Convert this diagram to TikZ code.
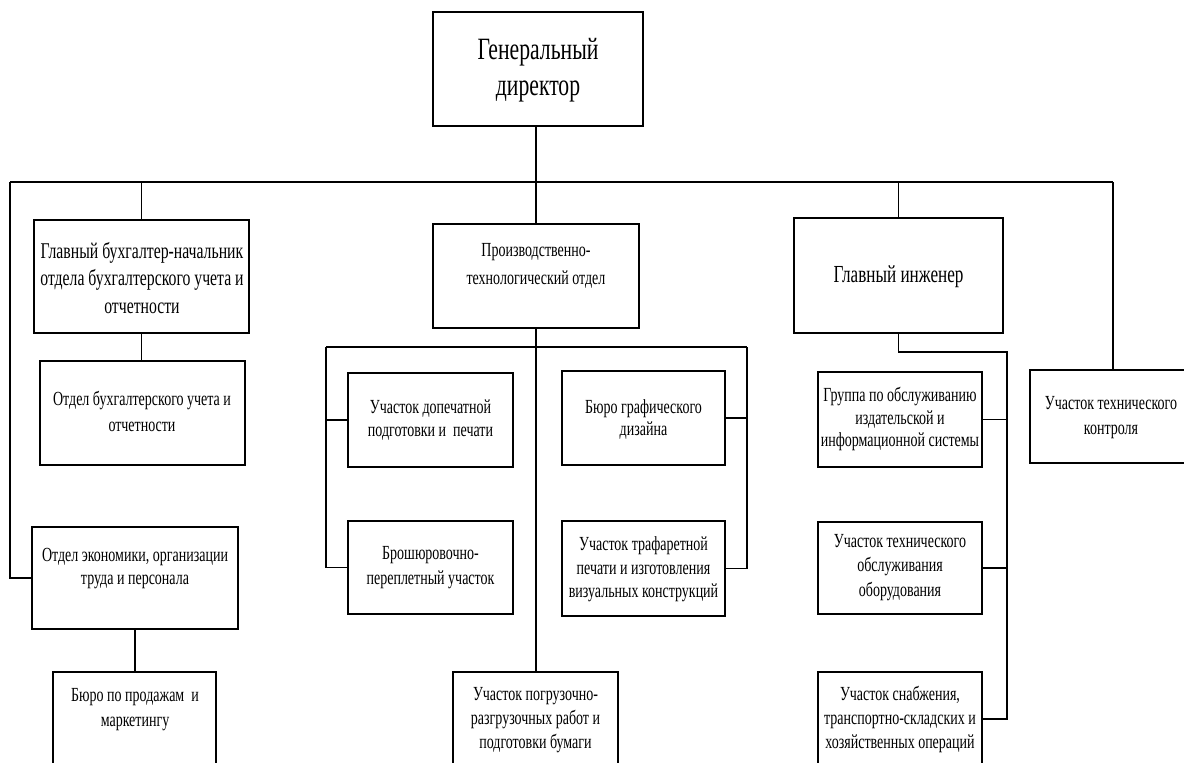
\documentclass[tikz,border=0pt]{standalone}
\usepackage{fontspec}
\setmainfont{Liberation Serif}[FakeStretch=0.7]
\begin{document}
\begin{tikzpicture}[x=1pt,y=-1pt,
  box/.style={draw, line width=1.5pt, inner sep=0pt},
  txt/.style={align=center, inner sep=0pt, font=\fontsize{20}{23.5}\selectfont},
  conn/.style={line width=1.5pt}]
\useasboundingbox (0,0) rectangle (1184,763);
\fill[white] (0,0) rectangle (1184,763);
\clip (0,0) rectangle (1184,763);
% boxes
\node[box, minimum width=210pt, minimum height=114pt] (gd) at (538,69) {};
\node[box, minimum width=215pt, minimum height=113pt] (gb) at (141.5,276.5) {};
\node[box, minimum width=205pt, minimum height=104pt] (obu) at (142.5,413) {};
\node[box, minimum width=206pt, minimum height=102pt] (oe) at (135,578) {};
\node[box, minimum width=163pt, minimum height=94pt] (bp) at (134.5,719) {};
\node[box, minimum width=206pt, minimum height=104pt] (pto) at (536,276) {};
\node[box, minimum width=165pt, minimum height=94pt] (ud) at (430.5,420) {};
\node[box, minimum width=165pt, minimum height=93pt] (br) at (430.5,567.5) {};
\node[box, minimum width=163pt, minimum height=94pt] (bg) at (643.5,418) {};
\node[box, minimum width=163pt, minimum height=95pt] (tr) at (643.5,568.5) {};
\node[box, minimum width=165pt, minimum height=94pt] (pg) at (535.5,719) {};
\node[box, minimum width=209pt, minimum height=115pt] (gi) at (898.5,275.5) {};
\node[box, minimum width=164pt, minimum height=95pt] (gr) at (900,419.5) {};
\node[box, minimum width=164pt, minimum height=92pt] (uto) at (900,568) {};
\node[box, minimum width=164pt, minimum height=94pt] (us) at (900,719) {};
\node[box, minimum width=162pt, minimum height=93pt] (utk) at (1111,416.5) {};
% texts
\node[txt, font=\fontsize{31}{36}\selectfont] (gd-t) at (538,70) {Генеральный\\директор};
\node[txt, font=\fontsize{22.5}{27.5}\selectfont] (gb-t) at (142,278) {Главный бухгалтер-начальник\\отдела бухгалтерского учета и\\отчетности};
\node[txt, font=\fontsize{20}{26}\selectfont] (obu-t) at (142,411) {Отдел бухгалтерского учета и\\отчетности};
\node[txt, font=\fontsize{20}{23}\selectfont] (oe-t) at (135,568.5) {Отдел экономики, организации\\труда и персонала};
\node[txt, font=\fontsize{20}{25}\selectfont] (bp-t) at (135,709.5) {Бюро по продажам\ \ и\\маркетингу};
\node[txt, font=\fontsize{20}{28}\selectfont] (pto-t) at (536,266) {Производственно-\\технологический отдел};
\node[txt, font=\fontsize{20}{23}\selectfont] (ud-t) at (430.5,420.5) {Участок допечатной\\подготовки и\ \ печати};
\node[txt, font=\fontsize{20}{25}\selectfont] (br-t) at (430.5,567.5) {Брошюровочно-\\переплетный участок};
\node[txt, font=\fontsize{20}{22}\selectfont] (bg-t) at (643.5,419) {Бюро графического\\дизайна};
\node[txt, font=\fontsize{20}{23.5}\selectfont] (tr-t) at (643.5,569.5) {Участок трафаретной\\печати и изготовления\\визуальных конструкций};
\node[txt, font=\fontsize{20}{24}\selectfont] (pg-t) at (535.5,720) {Участок погрузочно-\\разгрузочных работ и\\подготовки бумаги};
\node[txt, font=\fontsize{24.5}{29}\selectfont] (gi-t) at (898.5,277) {Главный инженер};
\node[txt, font=\fontsize{20}{22.5}\selectfont] (gr-t) at (900,419) {Группа по обслуживанию\\издательской и\\информационной системы};
\node[txt, font=\fontsize{20}{24.5}\selectfont] (uto-t) at (900,567.5) {Участок технического\\обслуживания\\оборудования};
\node[txt, font=\fontsize{20}{24}\selectfont] (us-t) at (900,719) {Участок снабжения,\\транспортно-складских и\\хозяйственных операций};
\node[txt, font=\fontsize{20}{25}\selectfont] (utk-t) at (1111,417.5) {Участок технического\\контроля};
% connectors
\coordinate (busL) at (10,182);
\coordinate (busR) at (1113,182);
\coordinate (b2L) at (326,347);
\coordinate (b2R) at (747,347);
\coordinate (giJ) at (1007,352);
\draw[conn] (pto.north |- gd.south) -- (pto.north);
\draw[conn] (busL) -- (busR);
\draw[conn] (busL) |- (oe.west);
\draw[conn] (busR) -- (busR |- utk.north);
\draw[conn] (gb.north |- busL) -- (gb.north);
\draw[conn] (gb.south) -- (gb.south |- obu.north);
\draw[conn] (oe.south) -- (oe.south |- bp.north);
\draw[conn] (gi.north |- busL) -- (gi.north);
\draw[conn] (pto.south) -- (pto.south |- pg.north);
\draw[conn] (b2L) -- (b2R);
\draw[conn] (b2L) |- (ud.west);
\draw[conn] (b2L) |- (br.west);
\draw[conn] (b2R) |- (bg.east);
\draw[conn] (b2R) |- (tr.east);
\draw[conn] (gi.south) |- (giJ) |- (us.east);
\draw[conn] (giJ) |- (gr.east);
\draw[conn] (giJ) |- (uto.east);
\end{tikzpicture}
\end{document}
